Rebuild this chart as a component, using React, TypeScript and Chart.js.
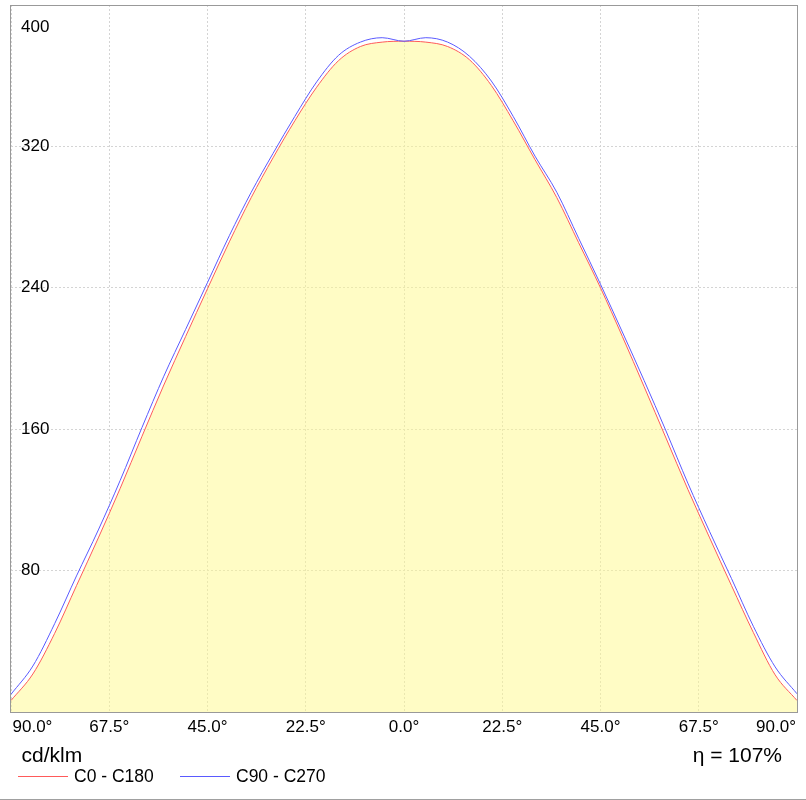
import React, { useEffect, useRef } from "react";
import { Chart, registerables } from "chart.js";

Chart.register(...registerables);

const angles = [-90, -85, -80, -75, -70, -65, -60, -55, -50, -45, -40, -35, -30, -25, -20, -15, -10, -5, 0, 5, 10, 15, 20, 25, 30, 35, 40, 45, 50, 55, 60, 65, 70, 75, 80, 85, 90];

const c0c180 = [6.5, 21.5, 44.5, 71.5, 98.5, 126.5, 156, 185, 212.5, 239.5, 266, 291, 313.5, 334.5, 353.5, 368.5, 376.5, 379, 379.5, 379, 376.5, 369, 354.5, 334.5, 312.5, 291, 265.5, 240, 212.5, 184, 155, 126, 98.5, 71.5, 45, 21, 6.5];

const c90c270 = [10, 26, 50, 77, 103, 131, 161, 190, 216.5, 243, 269.5, 294, 316, 337, 356.5, 371.5, 379, 381.5, 379.5, 381.5, 379, 371, 357, 337, 314.5, 294, 268, 242, 215, 187.5, 159, 129.5, 102, 75.5, 48.5, 25.5, 10.3];

const seriesNames = ["C0 - C180", "C90 - C270"];
const seriesColors = ["rgb(255,90,90)", "rgb(90,90,255)"];
const xTicks = [-90, -67.5, -45, -22.5, 0, 22.5, 45, 67.5, 90];
const yTicks = [0, 80, 160, 240, 320, 400];
const unitLabel = "cd/klm";
const efficiencyLabel = "η = 107%";

const FONT = '"Liberation Sans", Arial, sans-serif';

const overlay = {
  id: "overlay",
  afterDraw(chart: any) {
    const { ctx, chartArea: a, scales } = chart;
    ctx.save();
    // plot frame
    ctx.strokeStyle = "#999999";
    ctx.lineWidth = 1;
    ctx.strokeRect(a.left - 0.5, a.top + 0.5, a.right - a.left + 1, a.bottom - a.top);

    // y labels inside the plot
    ctx.fillStyle = "#000";
    ctx.font = `17px ${FONT}`;
    ctx.textAlign = "left";
    ctx.textBaseline = "middle";
    const ys = scales.y;
    ys.ticks.forEach((t: any) => {
      if (t.value === 0) return;
      let y = ys.getPixelForValue(t.value);
      if (y < a.top + 15) y = a.top + 22.5;
      ctx.fillText(String(t.value), a.left + 10, y);
    });

    // x labels below the plot
    ctx.textBaseline = "alphabetic";
    const xs = scales.x;
    const n = xs.ticks.length;
    xs.ticks.forEach((t: any, i: number) => {
      const x = xs.getPixelForValue(t.value);
      const label = Math.abs(Number(t.value)).toFixed(1) + "°";
      if (i === 0) {
        ctx.textAlign = "left";
        ctx.fillText(label, x + 1.5, 732);
      } else if (i === n - 1) {
        ctx.textAlign = "right";
        ctx.fillText(label, x - 1, 732);
      } else {
        ctx.textAlign = "center";
        ctx.fillText(label, x, 732);
      }
    });

    // unit and efficiency
    ctx.font = `21px ${FONT}`;
    ctx.textBaseline = "alphabetic";
    ctx.textAlign = "left";
    ctx.fillText(unitLabel, 21.5, 761.5);
    ctx.textAlign = "right";
    ctx.fillText(efficiencyLabel, 782, 761.5);

    // legend
    ctx.font = `17.5px ${FONT}`;
    ctx.textAlign = "left";
    ctx.textBaseline = "middle";
    const legendX = [18, 180];
    chart.data.datasets.forEach((ds: any) => {
      const idx = seriesNames.indexOf(ds.label);
      const x = legendX[idx];
      ctx.strokeStyle = ds.borderColor;
      ctx.lineWidth = 1;
      ctx.beginPath();
      ctx.moveTo(x, 776.5);
      ctx.lineTo(x + 50, 776.5);
      ctx.stroke();
      ctx.fillStyle = "#000";
      ctx.fillText(ds.label, x + 56, 777);
    });

    // bottom line of the image
    ctx.fillStyle = "#a0a0a0";
    ctx.fillRect(0, 799, chart.width, 1);
    ctx.restore();
  },
};

export default function App() {
  const ref = useRef<HTMLCanvasElement | null>(null);

  useEffect(() => {
    document.body.style.margin = "0";
    if (!ref.current) return;
    Chart.defaults.font.family = FONT;
    const chart = new Chart(ref.current, {
      type: "line",
      data: {
        datasets: [
          {
            label: seriesNames[0],
            data: angles.map((a, i) => ({ x: a, y: c0c180[i] })),
            borderColor: seriesColors[0],
            backgroundColor: "rgba(255,250,140,0.5)",
            fill: "origin",
            borderWidth: 1,
            pointRadius: 0,
            cubicInterpolationMode: "monotone",
            order: 1,
          },
          {
            label: seriesNames[1],
            data: angles.map((a, i) => ({ x: a, y: c90c270[i] })),
            borderColor: seriesColors[1],
            backgroundColor: "rgba(0,0,0,0)",
            fill: false,
            borderWidth: 1,
            pointRadius: 0,
            cubicInterpolationMode: "monotone",
            order: 0,
          },
        ],
      },
      options: {
        responsive: false,
        animation: false,
        devicePixelRatio: 1,
        layout: { padding: { left: 11, right: 9, top: 5, bottom: 88 } },
        plugins: {
          legend: { display: false },
          tooltip: { enabled: false },
        },
        scales: {
          x: {
            type: "linear",
            min: -90,
            max: 90,
            afterFit: (s: any) => {
              s.height = 0;
            },
            afterBuildTicks: (s: any) => {
              s.ticks = xTicks.map((v) => ({ value: v }));
            },
            ticks: { display: false },
            grid: { color: "#d4d4d4", drawTicks: false, lineWidth: 1 },
            border: { display: false, dash: [2, 2] },
          },
          y: {
            type: "linear",
            min: 0,
            max: 400,
            afterFit: (s: any) => {
              s.width = 0;
            },
            afterBuildTicks: (s: any) => {
              s.ticks = yTicks.map((v) => ({ value: v }));
            },
            ticks: { display: false },
            grid: { color: "#d4d4d4", drawTicks: false, lineWidth: 1 },
            border: { display: false, dash: [2, 2] },
          },
        },
      },
      plugins: [overlay],
    } as any);
    return () => chart.destroy();
  }, []);

  return (
    <div style={{ width: 806, height: 800 }}>
      <canvas ref={ref} width={806} height={800} />
    </div>
  );
}
